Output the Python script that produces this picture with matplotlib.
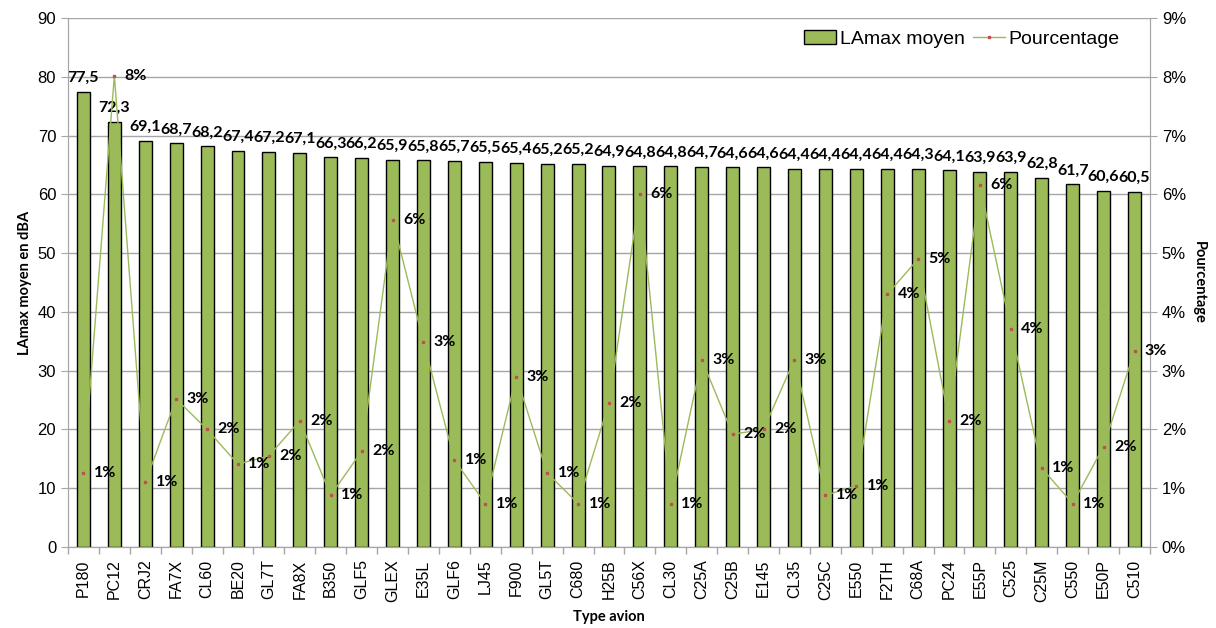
import numpy as np
import matplotlib
matplotlib.use('Agg')
import matplotlib.pyplot as plt
from matplotlib.ticker import FuncFormatter

types = ['P180', 'PC12', 'CRJ2', 'FA7X', 'CL60', 'BE20', 'GL7T', 'FA8X', 'B350', 'GLF5',
         'GLEX', 'E35L', 'GLF6', 'LJ45', 'F900', 'GL5T', 'C680', 'H25B', 'C56X', 'CL30',
         'C25A', 'C25B', 'E145', 'CL35', 'C25C', 'E550', 'F2TH', 'C68A', 'PC24', 'E55P',
         'C525', 'C25M', 'C550', 'E50P', 'C510']
lamax = [77.5, 72.3, 69.1, 68.7, 68.2, 67.4, 67.2, 67.1, 66.3, 66.2,
         65.9, 65.8, 65.7, 65.5, 65.4, 65.2, 65.2, 64.9, 64.8, 64.8,
         64.7, 64.6, 64.6, 64.4, 64.4, 64.4, 64.4, 64.3, 64.1, 63.9,
         63.9, 62.8, 61.7, 60.6, 60.5]
pct = [1.26, 8.02, 1.10, 2.52, 2.00, 1.41, 1.55, 2.15, 0.88, 1.63,
       5.57, 3.49, 1.48, 0.74, 2.90, 1.26, 0.74, 2.45, 6.00, 0.74,
       3.19, 1.92, 2.00, 3.19, 0.88, 1.04, 4.30, 4.90, 2.15, 6.16,
       3.71, 1.34, 0.74, 1.71, 3.34]

green = '#9BBB59'
red = '#C0504D'
grid = '#A6A6A6'
tick_font = 'Liberation Sans'
lab_font = 'Lato'

fig = plt.figure(figsize=(12.16, 6.28), dpi=100)
ax = fig.add_axes([0.0559, 0.129, 0.8898, 0.842])
x = np.arange(len(types))

bars = ax.bar(x, lamax, width=0.42, color=green, edgecolor='black', linewidth=1.0,
              label='LAmax moyen', zorder=2)
ax.set_ylim(0, 90)
ax.set_xlim(-0.5, len(types) - 0.5)
ax.set_yticks(np.arange(0, 91, 10))
ax.yaxis.grid(True, color=grid, linewidth=1.0, zorder=0)
ax.set_axisbelow(True)

for xi, v in zip(x, lamax):
    ax.annotate(f'{v:.1f}'.replace('.', ','), (xi, v), xytext=(0, 5),
                textcoords='offset points', ha='center', va='bottom',
                fontsize=11.5, fontweight='bold', family=lab_font, zorder=5)

# ticks between categories, labels centred
ax.set_xticks(x)
ax.set_xticklabels(types, rotation=90, fontsize=11.5, family=tick_font)
ax.tick_params(axis='x', which='major', length=0, pad=9)
ax.set_xticks(np.arange(-0.5, len(types), 1), minor=True)
ax.tick_params(axis='x', which='minor', length=5, color=grid, width=1)
ax.tick_params(axis='y', length=5, color=grid, labelsize=12)
for t in ax.get_yticklabels():
    t.set_family(tick_font)

ax.spines['top'].set_visible(False)
for s in ['left', 'bottom', 'right']:
    ax.spines[s].set_color(grid)

ax.set_ylabel('LAmax moyen en dBA', fontsize=10.5, fontweight='bold', family=lab_font, labelpad=4)
ax.set_xlabel('Type avion', fontsize=10.5, fontweight='bold', family=lab_font, labelpad=6)

ax2 = ax.twinx()
line, = ax2.plot(x, pct, color=green, linewidth=1.0, marker='s', markersize=2,
                 markerfacecolor=red, markeredgecolor=red, label='Pourcentage', zorder=3)
ax2.set_ylim(0, 9)
ax2.set_yticks(np.arange(0, 10, 1))
ax2.yaxis.set_major_formatter(FuncFormatter(lambda v, p: f'{v:.0f}%'))
ax2.tick_params(axis='y', length=5, color=grid, labelsize=12)
for t in ax2.get_yticklabels():
    t.set_family(tick_font)
ax2.spines['top'].set_visible(False)
for s in ['left', 'bottom', 'right']:
    ax2.spines[s].set_color(grid)
ax2.set_ylabel('Pourcentage', fontsize=10.5, fontweight='bold', family=lab_font,
               rotation=270, labelpad=14)

for xi, p in zip(x, pct):
    ax2.annotate(f'{p:.0f}%', (xi, p), xytext=(7.5, 0), textcoords='offset points',
                 ha='left', va='center', fontsize=11.5, fontweight='bold',
                 family=lab_font, zorder=5)

ax2.legend([bars, line], ['LAmax moyen', 'Pourcentage'], loc='upper right',
           bbox_to_anchor=(0.972, 0.977), ncol=2, frameon=False,
           prop={'family': tick_font, 'size': 14}, handlelength=1.65,
           handletextpad=0.2, columnspacing=0.4, borderaxespad=0, borderpad=0)

fig.savefig('out.png', dpi=100)
